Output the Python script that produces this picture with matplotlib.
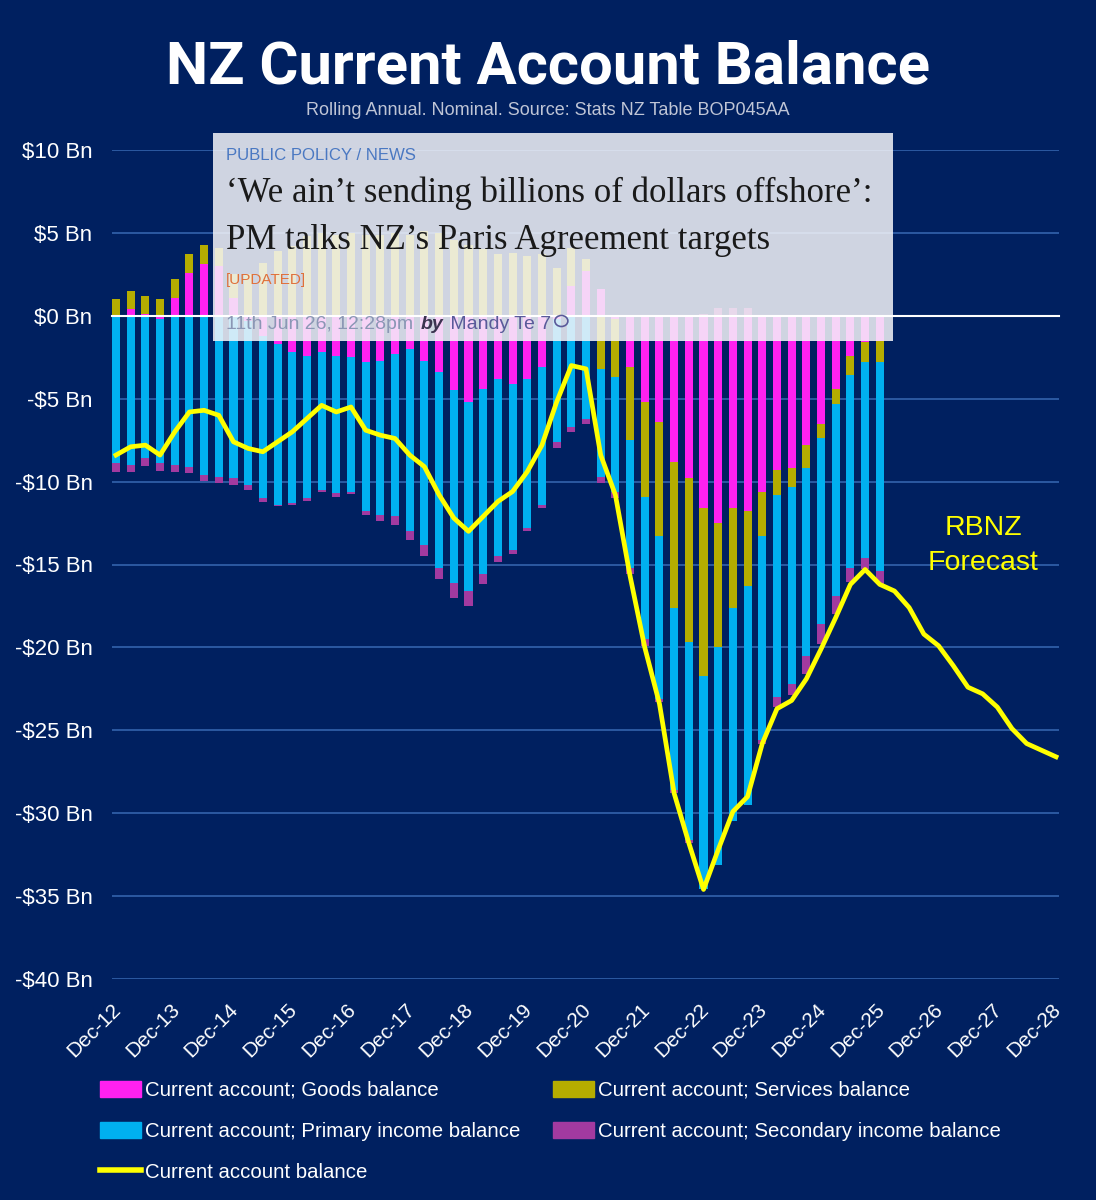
import numpy as np
import matplotlib
matplotlib.use('Agg')
from matplotlib import pyplot as plt
from matplotlib.patches import Rectangle, Ellipse
from matplotlib.lines import Line2D
import matplotlib.transforms as mtransforms

plt.rcParams['font.family'] = ['Liberation Sans', 'DejaVu Sans']

# Rolling annual components, $Bn, quarterly Dec-12 .. Dec-25
goods = [0.0, 0.4, 0.1, -0.2, 1.1, 2.6, 3.1, 3.0, 1.1, -0.3,
         -1.2, -1.7, -2.2, -2.4, -2.2, -2.4, -2.5, -2.8, -2.7, -2.3,
         -2.0, -2.7, -3.4, -4.5, -5.2, -4.4, -3.8, -4.1, -3.8, -3.1,
         -0.2, 1.8, 2.7, 1.6, -0.2, -3.1, -5.2, -6.4, -8.8, -9.8,
         -11.6, -12.5, -11.6, -11.8, -10.6, -9.3, -9.2, -7.8, -6.5, -4.4,
         -2.4, -1.6, -1.5]
services = [1.0, 1.1, 1.1, 1.0, 1.1, 1.1, 1.15, 1.1, 1.4, 2.5,
            3.2, 3.9, 4.2, 4.8, 5.0, 4.9, 5.0, 4.9, 4.9, 5.0,
            4.9, 5.1, 5.0, 4.6, 4.3, 4.0, 3.7, 3.8, 3.6, 3.7,
            2.9, 2.3, 0.7, -3.2, -3.5, -4.4, -5.7, -6.9, -8.8, -9.9,
            -10.1, -7.5, -6.0, -4.5, -2.7, -1.5, -1.1, -1.4, -0.9, -0.9,
            -1.2, -1.2, -1.3]
primary = [-8.9, -9.0, -8.6, -8.7, -9.0, -9.1, -9.6, -9.7, -9.8, -9.9,
           -9.8, -9.7, -9.1, -8.6, -8.3, -8.3, -8.1, -9.0, -9.3, -9.8,
           -11.0, -11.1, -11.8, -11.6, -11.4, -11.2, -10.7, -10.0, -9.0, -8.3,
           -7.4, -6.7, -6.2, -6.5, -6.9, -7.7, -8.6, -9.8, -11.0, -11.9,
           -12.9, -13.1, -12.9, -13.2, -12.3, -12.2, -11.9, -11.3, -11.2, -11.6,
           -11.6, -11.8, -12.6]
secondary = [-0.55, -0.4, -0.45, -0.45, -0.4, -0.4, -0.35, -0.4, -0.4, -0.3,
             -0.25, -0.1, -0.1, -0.15, -0.1, -0.2, -0.15, -0.2, -0.35, -0.5,
             -0.5, -0.7, -0.7, -0.9, -0.9, -0.6, -0.35, -0.25, -0.2, -0.2,
             -0.35, -0.3, -0.35, -0.4, -0.4, -0.4, -0.4, -0.2, -0.2, -0.2,
             0.1, 0.5, 0.5, 0.5, -0.2, -0.6, -0.65, -1.1, -1.2, -1.1,
             -0.85, -0.65, -0.8]

# Current account balance incl. RBNZ forecast to Dec-28
balance = [-8.4, -7.9, -7.8, -8.4, -7.0, -5.8, -5.7, -6.0, -7.6, -8.0,
           -8.2, -7.6, -7.0, -6.2, -5.4, -5.8, -5.5, -6.9, -7.2, -7.4,
           -8.4, -9.1, -10.8, -12.2, -13.0, -12.1, -11.2, -10.6, -9.4, -7.8,
           -5.2, -3.0, -3.2, -8.4, -10.8, -15.7, -20.0, -23.4, -28.8, -31.8,
           -34.6, -32.2, -29.9, -29.0, -25.8, -23.7, -23.2, -21.9, -20.1, -18.2,
           -16.2, -15.3, -16.2, -16.6, -17.6, -19.2, -19.9, -21.1, -22.4, -22.8,
           -23.6, -24.9, -25.8, -26.2, -26.6]

year_labels = ['Dec-12', 'Dec-13', 'Dec-14', 'Dec-15', 'Dec-16', 'Dec-17',
               'Dec-18', 'Dec-19', 'Dec-20', 'Dec-21', 'Dec-22', 'Dec-23',
               'Dec-24', 'Dec-25', 'Dec-26', 'Dec-27', 'Dec-28']
yticks = [10, 5, 0, -5, -10, -15, -20, -25, -30, -35, -40]
ytick_labels = ['$10 Bn', '$5 Bn', '$0 Bn', '-$5 Bn', '-$10 Bn', '-$15 Bn',
                '-$20 Bn', '-$25 Bn', '-$30 Bn', '-$35 Bn', '-$40 Bn']

names = ['Current account; Goods balance', 'Current account; Services balance',
         'Current account; Primary income balance', 'Current account; Secondary income balance']
colors = ['#ff21f0', '#b5ad00', '#00b0f0', '#a23aa0']
bg = '#002060'

W, H = 1096, 1200
fig = plt.figure(figsize=(W / 100, H / 100), dpi=100, facecolor=bg)
ax = fig.add_axes([112 / W, 1 - 979 / H, (1059 - 112) / W, (979 - 150) / H])
ax.set_facecolor(bg)

# Stacked bars, Excel style (positives up from 0, negatives down from 0)
x = np.arange(len(goods))
pos = np.zeros(len(x))
neg = np.zeros(len(x))
for vals, c in zip([goods, services, primary, secondary], colors):
    v = np.array(vals)
    bottom = np.where(v >= 0, pos, neg)
    ax.bar(x, v, bottom=bottom, width=0.55, color=c, zorder=2)
    pos += np.clip(v, 0, None)
    neg += np.clip(v, None, 0)

xl = np.arange(len(balance))
ax.plot(xl, balance, color='#ffff00', lw=3.4, zorder=3, solid_joinstyle='round')

ax.set_xlim(-0.27, 64.2)
ax.set_ylim(-40, 10)
ax.set_yticks(yticks)
ax.set_yticklabels(ytick_labels)
ax.set_xticks(np.arange(0, len(balance), 4))
ax.set_xticklabels(year_labels, rotation=45, ha='right', va='top', rotation_mode='anchor')
ax.grid(axis='y', color='#2f5ea6', lw=1.3, zorder=0)
ax.set_axisbelow(True)
for s in ax.spines.values():
    s.set_visible(False)
ax.tick_params(axis='y', length=0, pad=14, labelcolor='white', labelsize=16)
ax.tick_params(axis='x', length=0, pad=15, labelcolor='white', labelsize=15)
off = mtransforms.ScaledTranslation(-5 / 100, 0, fig.dpi_scale_trans)
for lab in ax.get_xticklabels():
    lab.set_transform(lab.get_transform() + off)

ax.text(0.92, 0.5235, 'RBNZ\nForecast', transform=ax.transAxes, ha='center', va='center',
        color='#ffff00', fontsize=20.5, linespacing=1.45)

# Title and subtitle
fig.text(0.5, 1 - 83 / H, 'NZ Current Account Balance', ha='center', va='baseline',
         color='white', fontsize=43, fontweight='bold', family=['Roboto', 'DejaVu Sans'])
fig.text(0.5, 1 - 115 / H, 'Rolling Annual. Nominal. Source: Stats NZ Table BOP045AA',
         ha='center', va='baseline', color='#bfc5d6', fontsize=13)

# News clipping pasted over the chart
fig.add_artist(Rectangle((213 / W, 1 - 341 / H), (893 - 213) / W, (341 - 133) / H,
                         transform=fig.transFigure, facecolor=(0.96, 0.96, 0.976),
                         alpha=0.85, edgecolor='none', zorder=5))
fig.add_artist(Line2D([0, 1], [0, 0], transform=ax.get_yaxis_transform(),
                      color='white', lw=1.5, zorder=6))
fig.text(226 / W, 1 - 160 / H, 'PUBLIC POLICY / NEWS', color='#4a78c2', fontsize=12.1,
         va='baseline', zorder=7)
fig.text(226 / W, 1 - 202 / H, '\u2018We ain\u2019t sending billions of dollars offshore\u2019:',
         color='#1a1a1a', fontsize=25, va='baseline', zorder=7,
         family=['Liberation Serif', 'DejaVu Serif'])
fig.text(226 / W, 1 - 249 / H, 'PM talks NZ\u2019s Paris Agreement targets',
         color='#1a1a1a', fontsize=25, va='baseline', zorder=7,
         family=['Liberation Serif', 'DejaVu Serif'])
fig.text(226 / W, 1 - 284 / H, '[UPDATED]', color='#e0703a', fontsize=11,
         va='baseline', zorder=7)

renderer = fig.canvas.get_renderer()
xpos = 226
parts = [('11th Jun 26, 12:28pm ', '#8b97b5', 'normal', 'normal'),
         ('by', '#3c3350', 'bold', 'italic'),
         (' Mandy Te 7', '#5a5a9a', 'normal', 'normal')]
for txt, c, fw, st in parts:
    t = fig.text(xpos / W, 1 - 329 / H, txt, color=c, fontsize=14, va='baseline',
                 fontweight=fw, fontstyle=st, zorder=7)
    xpos = t.get_window_extent(renderer).x1 + 2
fig.add_artist(Ellipse(((xpos + 8) / W, 1 - 321 / H), 13 / W, 11 / H, transform=fig.transFigure,
                       facecolor='none', edgecolor='#5a5a9a', lw=1.2, zorder=7))

# Legend
handles = [Rectangle((0, 0), 1, 1, color=colors[0]),
           Rectangle((0, 0), 1, 1, color=colors[2]),
           Line2D([0], [0], color='#ffff00', lw=4),
           Rectangle((0, 0), 1, 1, color=colors[1]),
           Rectangle((0, 0), 1, 1, color=colors[3])]
labels = [names[0], names[2], 'Current account balance', names[1], names[3]]
fig.legend(handles, labels, ncol=2, loc='upper left', bbox_to_anchor=(100 / W, 1 - 1081 / H),
           frameon=False, fontsize=14.7, labelcolor='white', handlelength=2.0,
           handleheight=0.8, handletextpad=0.2, columnspacing=1.6, labelspacing=1.07,
           borderpad=0, borderaxespad=0)

fig.savefig('out.png', dpi=100, facecolor=bg)
